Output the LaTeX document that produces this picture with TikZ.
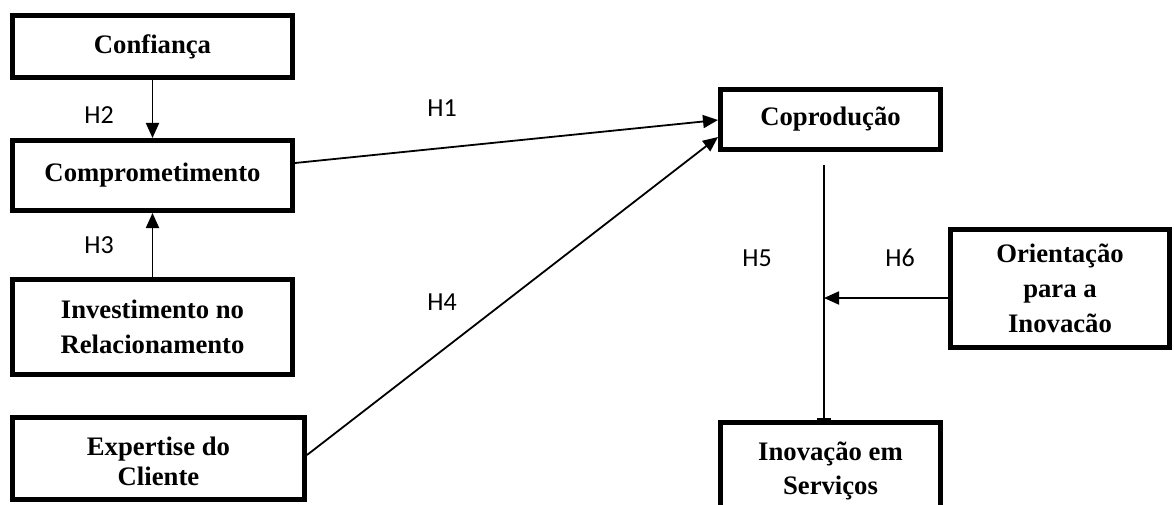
\documentclass[tikz,border=0pt]{standalone}
\usepackage{fontspec}
\setmainfont{Liberation Serif}
\newfontfamily\hfont{Carlito}
\usetikzlibrary{arrows.meta}
\begin{document}
\begin{tikzpicture}[x=1pt,y=-1pt,
  box/.style={draw, line width=5pt, inner sep=0pt, align=center,
    font=\fontsize{26.7}{35}\selectfont\bfseries},
  hlab/.style={font=\hfont\fontsize{26}{30}\selectfont, inner sep=0pt},
  conn/.style={line width=1.8pt},
  arr/.style={conn, -{Triangle[length=15pt,width=13pt]}}]
\useasboundingbox (0,0) rectangle (1174,505);
\clip (0,0) rectangle (1174,505);
\node[box, minimum width=280, minimum height=62] (conf) at (152.5,46.5) {Confiança};
\node[box, minimum width=280, minimum height=70] (comp) at (152.5,175.5) {Comprometimento};
\node[box, minimum width=280, minimum height=95] (inv) at (152.5,326.5) {Investimento no\\Relacionamento};
\node[box, minimum width=292, minimum height=82] (exp) at (158.5,458.5) {\raisebox{-11.5pt}[0pt][0pt]{\begin{tabular}{@{}c@{}}Expertise do\\[-5pt]Cliente\end{tabular}}};
\node[box, minimum width=220, minimum height=110, anchor=north] (inov) at (830.5,419.5) {\raisebox{0pt}[0pt][0pt]{\begin{tabular}{@{}c@{}}Inovação em\\[-1pt]Serviços\end{tabular}}};
\node[box, minimum width=220, minimum height=60] (copro) at (830.5,119.5) {Coprodução};
\node[box, minimum width=219, minimum height=118] (orient) at (1060,288.5) {Orientação\\para a\\Inovacão};
\node[hlab] (h1) at (442,108) {H1};
\node[hlab] (h2) at (99,115) {H2};
\node[hlab] (h3) at (99,245) {H3};
\node[hlab] (h4) at (442,302) {H4};
\node[hlab] (h5) at (757,258) {H5};
\node[hlab] (h6) at (900,258) {H6};
\coordinate (h5s) at (824,165);
\coordinate (h6e) at (824,298);
\draw[arr] (conf.south) -- (comp.north);
\draw[arr] (inv.north) -- (comp.south);
\draw[arr] ([yshift=12.5pt]comp.east) -- ([yshift=-0.5pt]copro.west);
\draw[arr] ([yshift=3.5pt]exp.east) -- ([yshift=-17.5pt]copro.west);
\draw[conn, -{Bar[width=14pt]}] (h5s) -- (h5s |- inov.north);
\draw[arr] (orient.west |- h6e) -- (h6e);
\end{tikzpicture}
\end{document}
